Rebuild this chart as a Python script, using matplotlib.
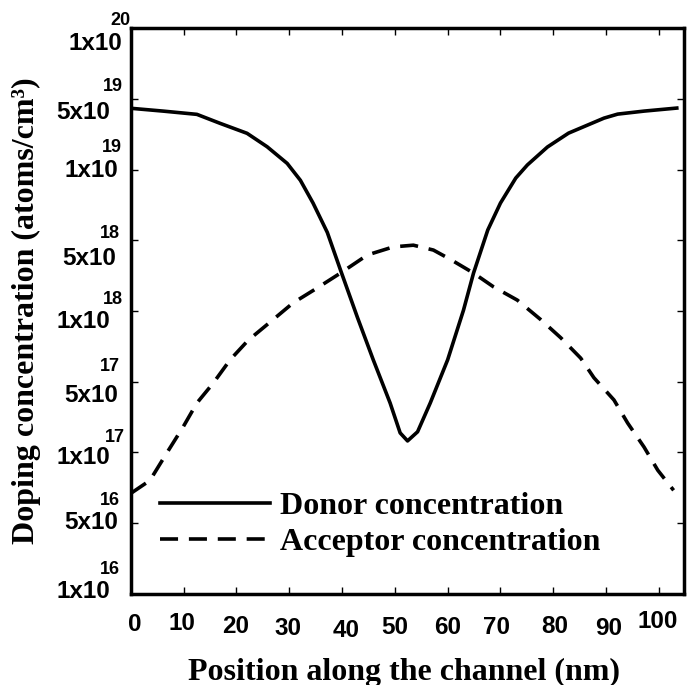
import numpy as np
import matplotlib
matplotlib.use('Agg')
import matplotlib.pyplot as plt

# data (position in nm, concentration in atoms/cm^3)
donor_x = [0, 6.1, 12.5, 16.9, 22.0, 25.8, 29.6, 32.1, 34.5, 37.2, 39.7, 42.9,
           45.9, 49.1, 51.0, 52.4, 54.3, 56.7, 60.0, 63.0, 64.9, 67.6, 70.0,
           72.9, 75.1, 78.9, 82.9, 89.6, 92.2, 97.2, 103.4]
donor_y = [4.03e19, 3.78e19, 3.51e19, 2.86e19, 2.28e19, 1.68e19, 1.15e19, 9.0e18,
           7.2e18, 5.4e18, 2.54e18, 9.4e17, 6.2e17, 3.08e17, 1.56e17, 1.30e17,
           1.6e17, 3.08e17, 6.2e17, 1.02e18, 2.37e18, 5.53e18, 7.2e18, 9.2e18,
           1.11e19, 1.67e19, 2.29e19, 3.22e19, 3.53e19, 3.78e19, 4.05e19]

acceptor_x = [0, 3.6, 6.8, 9.9, 12.5, 15.6, 18.8, 22.2, 26.4, 30.7, 35.3, 39.7,
              44.8, 49.7, 53.5, 57.3, 60.5, 64.9, 68.7, 73.2, 77.6, 81.4, 85.2,
              87.7, 91.5, 94.1, 97.2, 99.8, 102.8]
acceptor_y = [6.7e16, 7.6e16, 9.95e16, 1.79e17, 3.08e17, 4.85e17, 6.2e17, 7.5e17,
              8.98e17, 1.2e18, 1.69e18, 2.37e18, 3.58e18, 4.3e18, 4.47e18, 4.0e18,
              3.24e18, 2.37e18, 1.73e18, 1.28e18, 9.2e17, 7.7e17, 6.3e17, 5.2e17,
              3.3e17, 1.95e17, 1.13e17, 8.4e16, 6.9e16]

xticks = [0, 10, 20, 30, 40, 50, 60, 70, 80, 90, 100]
yticks = [1e16, 5e16, 1e17, 5e17, 1e18, 5e18, 1e19, 5e19, 1e20]
ytick_mant = ['1', '5', '1', '5', '1', '5', '1', '5', '1']
ytick_exp = ['16', '16', '17', '17', '18', '18', '19', '19', '20']

# the axis puts every labelled value at an equal step (not a true log scale)
tick_logs = np.log10(yticks)
tick_pos = np.arange(len(yticks), dtype=float)

def fwd(v):
    v = np.asarray(v, dtype=float)
    with np.errstate(divide='ignore', invalid='ignore'):
        lv = np.log10(np.where(v > 0, v, 1e-300))
    return np.interp(lv, tick_logs, tick_pos, left=-1, right=9)

def inv(u):
    return 10 ** np.interp(u, tick_pos, tick_logs)

sans = 'Liberation Sans'
serif = 'Liberation Serif'

fig = plt.figure(figsize=(6.89, 6.85), dpi=100)
ax = fig.add_axes([0.190, 0.133, 0.803, 0.826])
ax.set_yscale('function', functions=(fwd, inv))

ax.plot(donor_x, donor_y, 'k-', lw=2.6, label='Donor concentration')
ax.plot(acceptor_x, acceptor_y, 'k--', lw=2.6, dashes=(5, 3),
        label='Acceptor concentration')

ax.set_xlim(0, 104.8)
ax.set_ylim(1e16, 1e20)
ax.set_xticks(xticks)
ax.set_yticks(yticks)
ax.minorticks_off()
ax.set_xticklabels([])
ax.set_yticklabels([])
ax.tick_params(direction='in', length=5, width=1, top=True, right=True)
for s in ax.spines.values():
    s.set_linewidth(2.5)

# x tick labels (slightly uneven, as in the original)
xl_dx = [4, -2, -1, -1, 4, 0, 0, -4, 1, 3, -1]
xl_dy = [-31, -30, -33, -35, -37, -34, -34, -34, -33, -35, -28]
for v, dx, dy in zip(xticks, xl_dx, xl_dy):
    ax.annotate(str(v), xy=(v, 0), xycoords=('data', 'axes fraction'),
                xytext=(dx, dy), textcoords='offset pixels', ha='center',
                va='center', fontsize=17.5, fontweight='bold', family=sans)

# y tick labels: "1x10" with the exponent set high above it
base_dx = [-21, -13, -21, -13, -21, -15, -13, -21, -9]
base_dy = [2, 1, -5, -14, -11, -18, -1, -14, -15]
exp_dx = [-31, -31, -26, -31, -28, -31, -29, -28, -21]
exp_dy = [24, 23, 15, 15, 11, 7, 22, 12, 8]
for i, v in enumerate(yticks):
    ax.annotate(ytick_mant[i] + 'x10', xy=(0, v), xycoords=('axes fraction', 'data'),
                xytext=(base_dx[i], base_dy[i]), textcoords='offset pixels',
                ha='right', va='center', fontsize=17.5, fontweight='bold', family=sans)
    ax.annotate(ytick_exp[i], xy=(0, v), xycoords=('axes fraction', 'data'),
                xytext=(exp_dx[i], exp_dy[i]), textcoords='offset pixels',
                ha='left', va='center', fontsize=13, fontweight='bold', family=sans)

ax.text(0.494, -0.138, 'Position along the channel (nm)', transform=ax.transAxes,
        ha='center', va='center', fontsize=23, fontweight='bold', family=serif)
ax.text(-0.188, 0.5, 'Doping concentration (atoms/cm\u00b3)', transform=ax.transAxes,
        rotation=90, ha='center', va='center', fontsize=23, fontweight='bold',
        family=serif)

ax.legend(loc='upper left', bbox_to_anchor=(0.052, 0.18), frameon=False,
          borderpad=0, borderaxespad=0, handlelength=3.45, handletextpad=0.33,
          labelspacing=0.2, prop={'family': serif, 'weight': 'bold', 'size': 23})

plt.savefig('out.png', dpi=100)
